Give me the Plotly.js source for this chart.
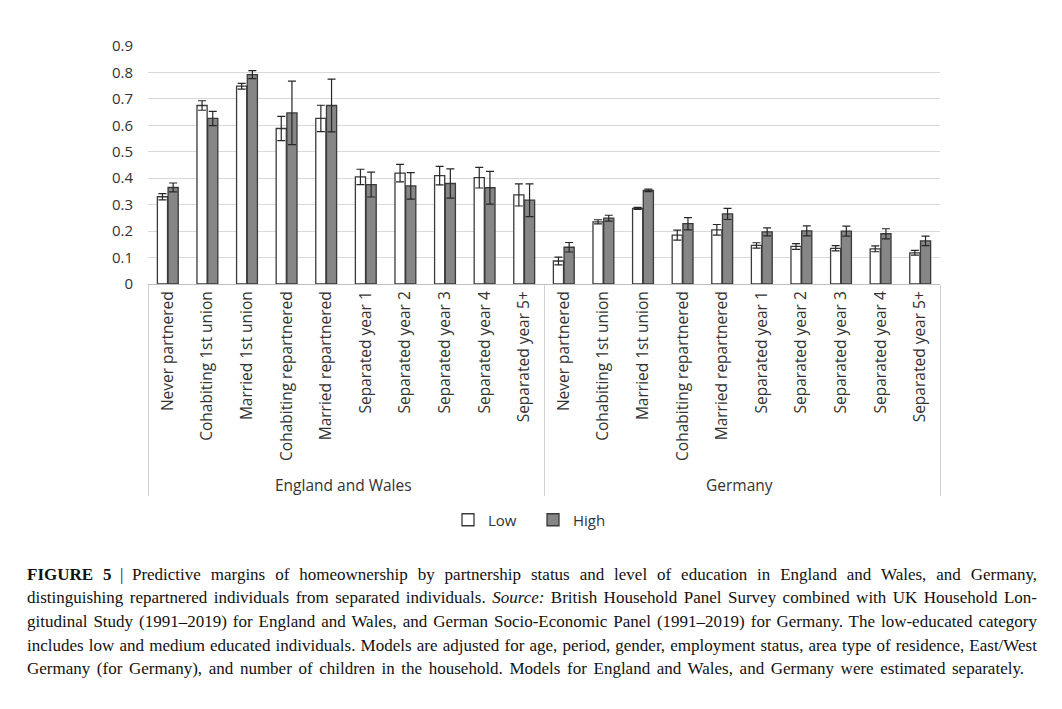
<!DOCTYPE html>
<html>
<head>
<meta charset="utf-8">
<script src="https://cdn.plot.ly/plotly-3.0.1.min.js"></script>
<style>
  html, body { margin: 0; padding: 0; background: #ffffff; }
  #chart { width: 1062px; height: 709px; }
</style>
</head>
<body>
<div id="chart"></div>
<script>
const countries = ["England and Wales", "Germany"];
const categories = ["Never partnered", "Cohabiting 1st union", "Married 1st union",
  "Cohabiting repartnered", "Married repartnered", "Separated year 1",
  "Separated year 2", "Separated year 3", "Separated year 4", "Separated year 5+"];

const ewLow     = [0.330, 0.675, 0.748, 0.588, 0.626, 0.405, 0.419, 0.410, 0.402, 0.337];
const ewLowErr  = [0.012, 0.018, 0.011, 0.046, 0.050, 0.029, 0.033, 0.035, 0.039, 0.042];
const ewHigh    = [0.365, 0.626, 0.792, 0.647, 0.675, 0.376, 0.371, 0.380, 0.364, 0.317];
const ewHighErr = [0.017, 0.027, 0.015, 0.120, 0.100, 0.047, 0.050, 0.055, 0.062, 0.062];

const deLow     = [0.087, 0.235, 0.286, 0.185, 0.205, 0.146, 0.142, 0.135, 0.133, 0.118];
const deLowErr  = [0.015, 0.008, 0.004, 0.019, 0.020, 0.010, 0.011, 0.010, 0.011, 0.009];
const deHigh    = [0.139, 0.249, 0.354, 0.228, 0.265, 0.197, 0.201, 0.200, 0.190, 0.163];
const deHighErr = [0.018, 0.011, 0.005, 0.023, 0.021, 0.015, 0.019, 0.019, 0.019, 0.018];

const seriesNames = ["Low", "High"];

const captionLines = [
  "<b>FIGURE 5</b>\u2002|\u2002Predictive margins of homeownership by partnership status and level of education in England and Wales, and Germany,",
  "distinguishing repartnered individuals from separated individuals. <i>Source:</i> British Household Panel Survey combined with UK Household Lon-",
  "gitudinal Study (1991–2019) for England and Wales, and German Socio-Economic Panel (1991–2019) for Germany. The low-educated category",
  "includes low and medium educated individuals. Models are adjusted for age, period, gender, employment status, area type of residence, East/West",
  "Germany (for Germany), and number of children in the household. Models for England and Wales, and Germany were estimated separately."
];

const outer = [], inner = [];
countries.forEach(c => categories.forEach(k => { outer.push(c); inner.push(k); }));

const lowVals = ewLow.concat(deLow);
const lowErrs = ewLowErr.concat(deLowErr);
const highVals = ewHigh.concat(deHigh);
const highErrs = ewHighErr.concat(deHighErr);

const lineCol = "#3a3a3a";
const errStyle = (arr) => ({ type: "data", array: arr, visible: true, color: "#262626", thickness: 1.2, width: 4 });

const traces = [
  { type: "bar", name: seriesNames[0], x: [outer, inner], y: lowVals,
    marker: { color: "#ffffff", line: { color: lineCol, width: 1.3 } },
    error_y: errStyle(lowErrs) },
  { type: "bar", name: seriesNames[1], x: [outer, inner], y: highVals,
    marker: { color: "#868686", line: { color: lineCol, width: 1.3 } },
    error_y: errStyle(highErrs) }
];

const fontFam = "'Open Sans', 'Noto Sans', sans-serif";
const plotTop = 46, plotBottom = 284, plotLeft = 148, plotRight = 940;
const ph = plotBottom - plotTop, pw = plotRight - plotLeft;
const capLeft = 25;
const capY = [574, 598, 621, 645, 668];
const capRight = [1035, 1035, 1035, 1035, 1022];

const annotations = captionLines.map((t, i) => ({
  text: t, xref: "paper", yref: "paper",
  x: (capLeft - plotLeft) / pw, y: (plotBottom - capY[i]) / ph,
  xanchor: "left", yanchor: "middle", align: "left", showarrow: false,
  font: { family: "'Liberation Serif', 'DejaVu Serif', serif", size: 17, color: "#111111" }
}));

const layout = {
  width: 1062, height: 709,
  margin: { l: plotLeft, r: 1062 - plotRight, t: plotTop, b: 709 - plotBottom, pad: 0 },
  paper_bgcolor: "#ffffff", plot_bgcolor: "#ffffff",
  font: { family: fontFam, size: 15, color: "#333333" },
  barmode: "group", bargap: 0.46, bargroupgap: 0.05,
  showlegend: true,
  legend: { orientation: "h", x: (533 - plotLeft) / pw, xanchor: "center",
            y: (plotBottom - 520) / ph, yanchor: "middle",
            font: { family: fontFam, size: 15, color: "#333333" },
            itemwidth: 30, entrywidth: 40, traceorder: "normal" },
  xaxis: {
    type: "multicategory", tickangle: -90,
    showline: true, linecolor: "#bfbfbf", linewidth: 1,
    showdividers: true, dividercolor: "#d0d0d0", dividerwidth: 1,
    ticks: "", showgrid: false,
    tickfont: { family: fontFam, size: 15.5, color: "#333333" }
  },
  yaxis: {
    range: [0, 0.9], dtick: 0.1, tick0: 0,
    showgrid: true, gridcolor: "#d9d9d9", gridwidth: 1,
    zeroline: false, showline: false, ticks: "",
    ticklabelstandoff: 14,
    tickfont: { family: fontFam, size: 15, color: "#333333" }
  },
  annotations: annotations
};

Plotly.newPlot("chart", traces, layout, { displayModeBar: false, staticPlot: true }).then(gd => {
  try {
    const nodes = gd.querySelectorAll(".annotation-text");
    nodes.forEach((el, i) => {
      if (i >= capRight.length) return;
      const w = el.getComputedTextLength();
      const spaces = (el.textContent.match(/ /g) || []).length;
      const extra = (capRight[i] - capLeft - w) / spaces;
      if (spaces && extra > 0) el.style.wordSpacing = extra.toFixed(2) + "px";
    });
  } catch (e) { /* keep default spacing */ }
});
</script>
</body>
</html>
